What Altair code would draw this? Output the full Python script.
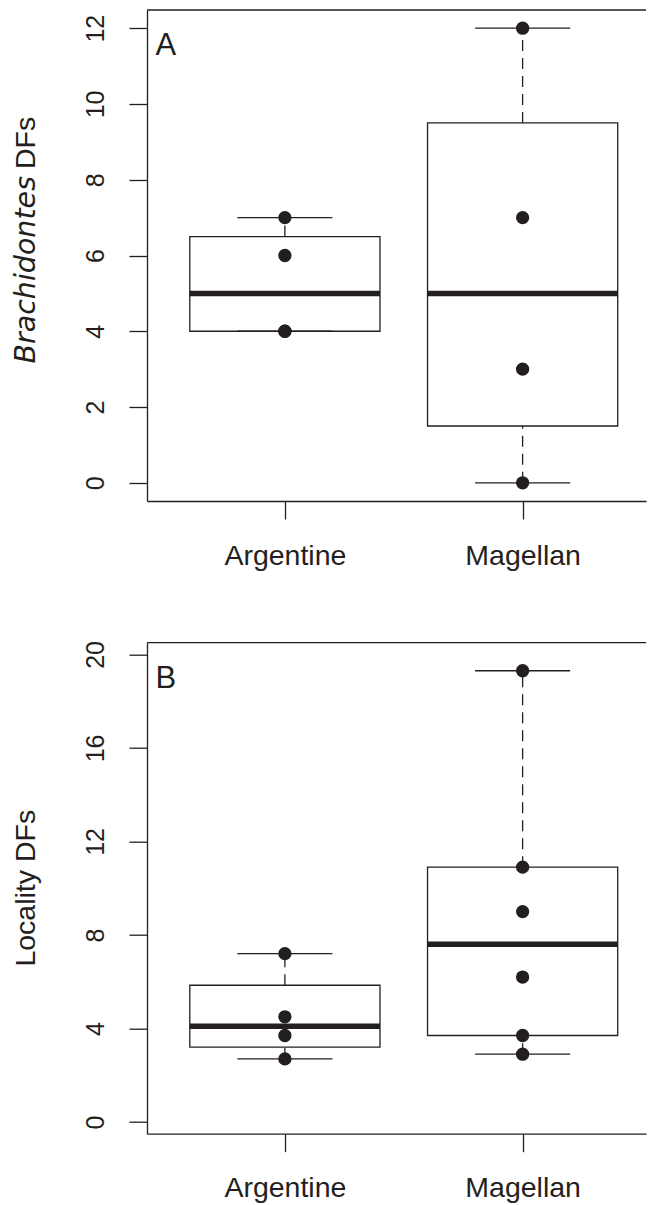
import altair as alt
import numpy as np
import pandas as pd

# ---------------- data ----------------
groups = ["Argentine", "Magellan"]
brach_argentine = [4, 4, 6, 7]
brach_magellan = [0, 3, 7, 12]
local_argentine = [2.7, 3.7, 4.5, 7.2]
local_magellan = [2.9, 3.7, 6.2, 9.0, 10.9, 19.3]

y_ticks_a = [0, 2, 4, 6, 8, 10, 12]
y_ticks_b = [0, 4, 8, 12, 16, 20]
y_domain_a = [-0.48, 12.48]
y_domain_b = [-0.5, 20.5]
x_domain = [0.42, 2.519]

INK = "#231f20"
W, H = 499, 491


def fivenum(v):
    x = np.sort(np.asarray(v, float))
    n = len(x)
    n4 = np.floor((n + 3) / 2) / 2
    d = np.array([1, n4, (n + 1) / 2, n + 1 - n4, n])
    return 0.5 * (x[np.floor(d).astype(int) - 1] + x[np.ceil(d).astype(int) - 1])


def stats_table(series):
    rows, pts = [], []
    for i, vals in enumerate(series):
        pos = i + 1
        lo_h, q1, med, q3, hi_h = fivenum(vals)
        iqr = q3 - q1
        arr = np.asarray(vals, float)
        lo = arr[arr >= q1 - 1.5 * iqr].min()
        hi = arr[arr <= q3 + 1.5 * iqr].max()
        rows.append(dict(pos=pos, lo=lo, q1=q1, med=med, q3=q3, hi=hi,
                         bl=pos - 0.4, br=pos + 0.4, cl=pos - 0.2, cr=pos + 0.2))
        for v in vals:
            pts.append(dict(pos=pos, value=v))
    return pd.DataFrame(rows), pd.DataFrame(pts)


def panel(series, ydom, yticks, letter, title_parts):
    stats, pts = stats_table(series)
    xs = alt.Scale(domain=x_domain, nice=False, zero=False)
    ys = alt.Scale(domain=ydom, nice=False, zero=False)
    label_js = "[" + ",".join("'%s'" % g for g in groups) + "][datum.value - 1]"
    xaxis = alt.Axis(values=[1, 2], labelExpr=label_js, title=None, grid=False,
                     tickSize=18, tickWidth=1.3, tickColor=INK,
                     domainColor=INK, domainWidth=1.3,
                     labelPadding=22, labelFontSize=28.5, labelFont="Liberation Sans",
                     labelColor=INK, labelFlush=False, labelOverlap=False)
    yaxis = alt.Axis(values=yticks, title=None, grid=False,
                     tickSize=18, tickWidth=1.3, tickColor=INK,
                     domainColor=INK, domainWidth=1.3,
                     labelAngle=270, labelAlign="center", labelBaseline="alphabetic",
                     labelPadding=25.4, labelFontSize=25, labelFont="Liberation Sans",
                     labelColor=INK, labelFlush=False, labelOverlap=False)

    base = alt.Chart(stats)
    whisk_up = base.mark_rule(color=INK, strokeWidth=1.3, strokeDash=[11, 7]).encode(
        x=alt.X("pos:Q", scale=xs, axis=xaxis), y=alt.Y("q3:Q", scale=ys, axis=yaxis), y2="hi:Q")
    whisk_lo = base.mark_rule(color=INK, strokeWidth=1.3, strokeDash=[11, 7]).encode(
        x=alt.X("pos:Q", scale=xs, axis=xaxis), y=alt.Y("lo:Q", scale=ys, axis=yaxis), y2="q1:Q")
    cap_hi = base.mark_rule(color=INK, strokeWidth=1.3).encode(
        x=alt.X("cl:Q", scale=xs, axis=xaxis), x2="cr:Q", y=alt.Y("hi:Q", scale=ys, axis=yaxis))
    cap_lo = base.mark_rule(color=INK, strokeWidth=1.3).encode(
        x=alt.X("cl:Q", scale=xs, axis=xaxis), x2="cr:Q", y=alt.Y("lo:Q", scale=ys, axis=yaxis))
    box = base.mark_rect(fillOpacity=0, stroke=INK, strokeWidth=1.3).encode(
        x=alt.X("bl:Q", scale=xs, axis=xaxis), x2="br:Q",
        y=alt.Y("q1:Q", scale=ys, axis=yaxis), y2="q3:Q")
    median = base.mark_rule(color=INK, strokeWidth=5.5).encode(
        x=alt.X("bl:Q", scale=xs, axis=xaxis), x2="br:Q", y=alt.Y("med:Q", scale=ys, axis=yaxis))
    points = alt.Chart(pts).mark_circle(size=177, color=INK, opacity=1).encode(
        x=alt.X("pos:Q", scale=xs, axis=xaxis), y=alt.Y("value:Q", scale=ys, axis=yaxis))

    one = pd.DataFrame({"t": [letter]})
    letter_mark = alt.Chart(one).mark_text(
        align="left", baseline="alphabetic", fontSize=31, font="Liberation Sans", color=INK
    ).encode(text="t:N", x=alt.value(8.6), y=alt.value(45))
    top_border = alt.Chart(one).mark_rule(color=INK, strokeWidth=1.3).encode(
        x=alt.value(0), x2=alt.value(W), y=alt.value(0))
    # invisible guides fixing the chart's left and top extent
    guide_left = alt.Chart(one).mark_rule(opacity=0).encode(
        x=alt.value(-138.4), y=alt.value(100), y2=alt.value(110))
    guide_top = alt.Chart(one).mark_rule(opacity=0).encode(
        x=alt.value(100), x2=alt.value(110), y=alt.value(-2))

    layers = [whisk_up, whisk_lo, cap_hi, cap_lo, box, median, points, letter_mark,
              top_border, guide_left, guide_top]
    for t in title_parts:
        df = pd.DataFrame({"t": [t["text"]]})
        layers.append(alt.Chart(df).mark_text(
            angle=270, align=t["align"], baseline="alphabetic", fontSize=t["size"],
            font=t["font"], fontStyle=t["style"], color=INK
        ).encode(text="t:N", x=alt.value(-112), y=alt.value(t["y"])))
    return alt.layer(*layers).properties(width=W, height=H)


title_a = [
    dict(text="Brachidontes", align="right", size=28.5, font="DejaVu Sans", style="italic", y=166),
    dict(text="DFs", align="left", size=28.5, font="Liberation Sans", style="normal", y=159),
]
title_b = [
    dict(text="Locality DFs", align="center", size=28.5, font="Liberation Sans", style="normal", y=H / 2),
]

pa = panel([brach_argentine, brach_magellan], y_domain_a, y_ticks_a, "A", title_a)
pb = panel([local_argentine, local_magellan], y_domain_b, y_ticks_b, "B", title_b)

chart = alt.vconcat(pa, pb, spacing=141.7, bounds="flush").properties(
    padding={"left": 0, "top": 0, "right": 0, "bottom": 0},
).configure_view(stroke=None)

chart.save("out.html", embed_options={"renderer": "svg", "actions": False})
